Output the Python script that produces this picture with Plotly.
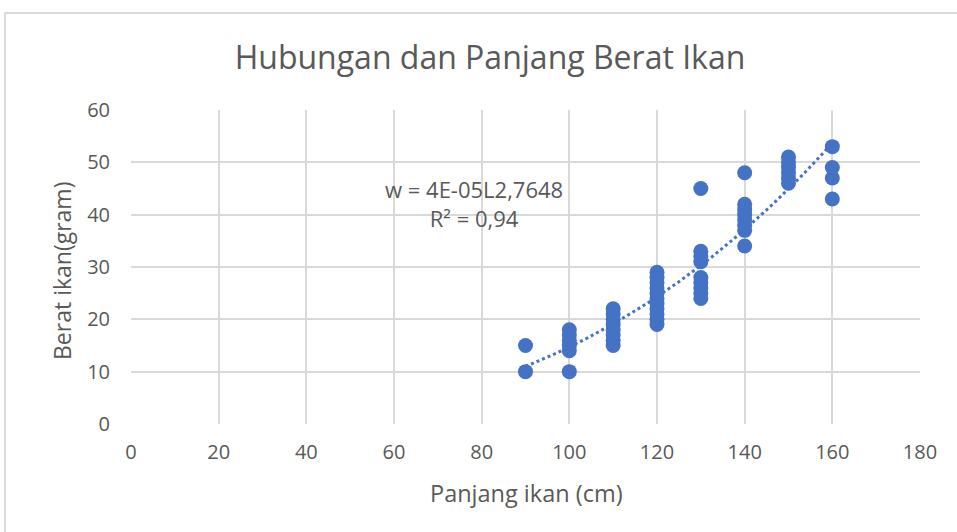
import numpy as np
import plotly.graph_objects as go

# Data
panjang = [90, 90,
           100, 100, 100, 100, 100, 100,
           110, 110, 110, 110, 110, 110, 110, 110,
           120, 120, 120, 120, 120, 120, 120, 120, 120, 120, 120,
           130, 130, 130, 130, 130, 130, 130, 130, 130,
           140, 140, 140, 140, 140, 140, 140, 140,
           150, 150, 150, 150, 150, 150,
           160, 160, 160, 160]
berat = [10, 15,
         10, 14, 15, 16, 17, 18,
         15, 16, 17, 18, 19, 20, 21, 22,
         19, 20, 21, 22, 23, 24, 25, 26, 27, 28, 29,
         24, 25, 26, 27, 28, 31, 32, 33, 45,
         34, 37, 38, 39, 40, 41, 42, 48,
         46, 47, 48, 49, 50, 51,
         43, 47, 49, 53]

title_text = "Hubungan dan Panjang Berat Ikan"
x_title = "Panjang ikan (cm)"
y_title = "Berat ikan(gram)"
eq_text = "w = 4E-05L2,7648<br>R² = 0,94"

# Power trendline fitted from data (log-log regression)
lx = np.log(np.array(panjang, dtype=float))
ly = np.log(np.array(berat, dtype=float))
b, ln_a = np.polyfit(lx, ly, 1)
a = np.exp(ln_a)
tx = np.linspace(min(panjang), max(panjang), 100)
ty = a * tx ** b

grey = "#595959"
font = "'Open Sans', sans-serif"

W, H = 957, 532
L, R, T, B = 131, 37, 110, 108
pw, ph = W - L - R, H - T - B


def px_x(p):
    return (p - L) / pw


def px_y(p):
    return (H - B - p) / ph


fig = go.Figure()
fig.add_trace(go.Scatter(x=panjang, y=berat, mode="markers",
                         marker=dict(size=15, color="#4472C4"),
                         showlegend=False, hoverinfo="x+y"))
fig.add_trace(go.Scatter(x=tx, y=ty, mode="lines",
                         line=dict(color="#4472C4", width=3, dash="dot"),
                         showlegend=False, hoverinfo="skip"))

fig.update_layout(
    width=W, height=H,
    paper_bgcolor="white", plot_bgcolor="white",
    margin=dict(l=L, r=R, t=T, b=B),
    font=dict(family=font, color=grey, size=20),
    title=dict(text=title_text, x=490 / W, xref="container",
               y=1 - 58 / H, yref="container", xanchor="center", yanchor="middle",
               font=dict(size=32, color=grey, family=font)),
    xaxis=dict(range=[0, 180], dtick=20, showgrid=True, gridcolor="#d9d9d9", gridwidth=1.5,
               zeroline=False, showline=False, ticks="", tickfont=dict(size=20, color=grey),
               ticklabelstandoff=14),
    yaxis=dict(range=[0, 60], dtick=10, showgrid=True, gridcolor="#d9d9d9", gridwidth=1.5,
               zeroline=False, showline=False, ticks="", tickfont=dict(size=20, color=grey),
               ticklabelstandoff=20),
    shapes=[dict(type="rect", xref="paper", yref="paper",
                 x0=px_x(5), x1=px_x(W + 20),
                 y0=px_y(H + 20), y1=px_y(13),
                 line=dict(color="#d9d9d9", width=2), layer="above")],
    annotations=[
        dict(text=eq_text, x=px_x(474), y=px_y(203),
             xref="paper", yref="paper", showarrow=False, align="center",
             font=dict(size=22, color=grey), xanchor="center", yanchor="middle"),
        dict(text=x_title, x=px_x(526), y=px_y(493),
             xref="paper", yref="paper", showarrow=False,
             font=dict(size=23.5, color=grey), xanchor="center", yanchor="middle"),
        dict(text=y_title, x=px_x(62), y=px_y(271), textangle=-90,
             xref="paper", yref="paper", showarrow=False,
             font=dict(size=23, color=grey), xanchor="center", yanchor="middle"),
    ],
)

fig.write_html("out.html", config={"displayModeBar": False},
               post_script="document.body.style.margin='0px';")
